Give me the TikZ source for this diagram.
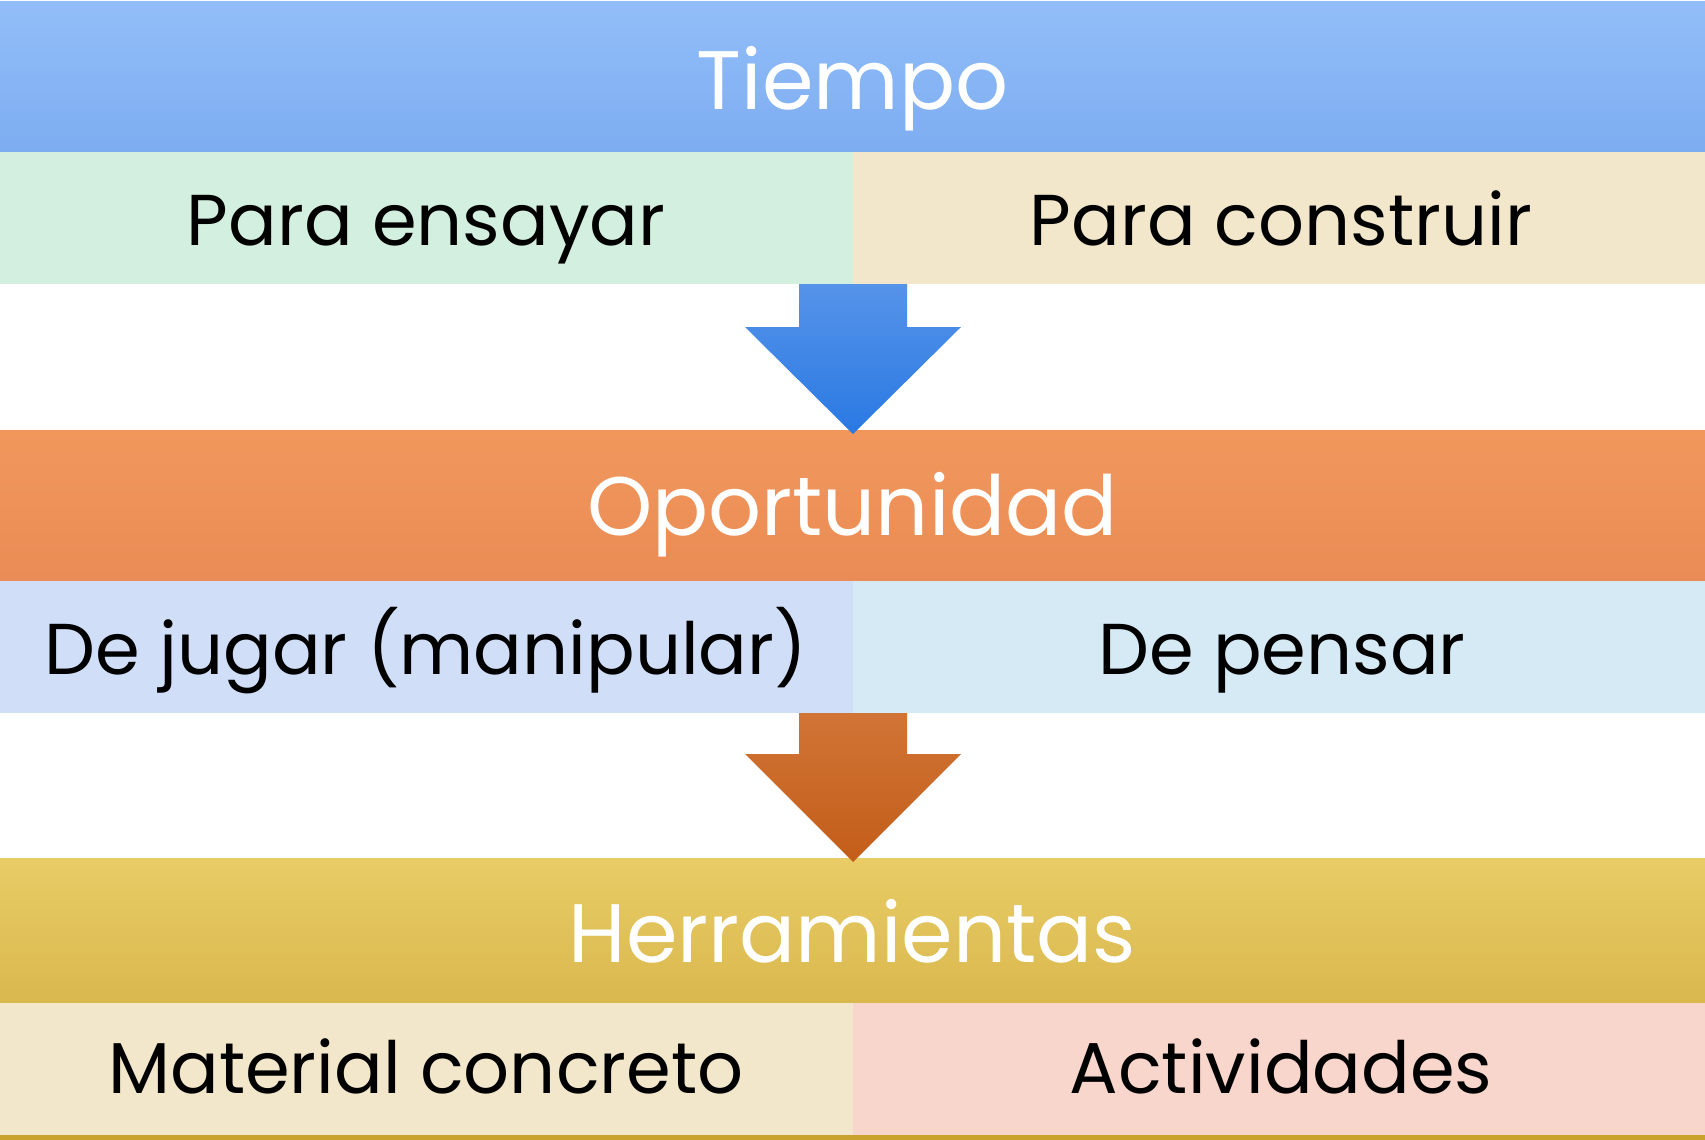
\documentclass[tikz,border=0pt]{standalone}
\usepackage{fontspec}
\setmainfont{Poppins}
\definecolor{tA}{HTML}{92BDF8}
\definecolor{tB}{HTML}{7DADF1}
\definecolor{mint}{HTML}{D3EFDF}
\definecolor{cream}{HTML}{F3E7CB}
\definecolor{aA}{HTML}{5693E9}
\definecolor{aB}{HTML}{2979E3}
\definecolor{oA}{HTML}{F1975C}
\definecolor{oB}{HTML}{EA8C55}
\definecolor{lav}{HTML}{D0DEF8}
\definecolor{sky}{HTML}{D6EAF5}
\definecolor{bA}{HTML}{D17436}
\definecolor{bB}{HTML}{C35D19}
\definecolor{yA}{HTML}{E9CC66}
\definecolor{yB}{HTML}{D9B84E}
\definecolor{pink}{HTML}{F8D6CC}
\definecolor{gold}{HTML}{C8A22C}
\begin{document}
\begin{tikzpicture}[x=1pt,y=-1pt]
\tikzset{
  bar/.style={draw=none,inner sep=0pt,outer sep=0pt,anchor=north west,minimum width=1705pt},
  cell/.style={draw=none,inner sep=0pt,outer sep=0pt,anchor=north west,minimum width=852.5pt,minimum height=132pt},
  ttl/.style={anchor=base,inner sep=0pt,text=white,font=\fontsize{83}{95}\selectfont},
  sub/.style={anchor=base,inner sep=0pt,text=black,font=\fontsize{72}{85}\selectfont},
}
\useasboundingbox (0,0) rectangle (1705,1140);
\fill[white] (0,0) rectangle (1705,1140);
% row 1
\node[bar,minimum height=150pt,top color=tA,bottom color=tB] (b1) at (0,2) {};
\node[cell,fill=mint] (c1l) at (0,152) {};
\node[cell,fill=cream] (c1r) at (852.5,152) {};
% row 2
\node[bar,minimum height=151pt,top color=oA,bottom color=oB] (b2) at (0,430) {};
\node[cell,fill=lav] (c2l) at (0,581) {};
\node[cell,fill=sky] (c2r) at (852.5,581) {};
% row 3
\node[bar,minimum height=145pt,top color=yA,bottom color=yB] (b3) at (0,858) {};
\node[cell,fill=cream] (c3l) at (0,1003) {};
\node[cell,fill=pink] (c3r) at (852.5,1003) {};
\fill[gold] (0,1135) rectangle (1705,1140);
% arrows
\shade[top color=aA,bottom color=aB] (799,284) -- (907,284) -- (907,327) -- (961,327) -- (853,434) -- (745,327) -- (799,327) -- cycle;
\shade[top color=bA,bottom color=bB] (799,713) -- (907,713) -- (907,754) -- (961,754) -- (853,862) -- (745,754) -- (799,754) -- cycle;
% texts
\node[ttl] (t1) at (852.5,109) {Tiempo};
\node[sub] (s1l) at (426,245) {Para ensayar};
\node[sub] (s1r) at (1281,245) {Para construir};
\node[ttl] (t2) at (852.5,535) {Oportunidad};
\node[sub] (s2l) at (426,674) {De jugar (manipular)};
\node[sub] (s2r) at (1282,674) {De pensar};
\node[ttl] (t3) at (852.5,962) {Herramientas};
\node[sub] (s3l) at (426,1093) {Material concreto};
\node[sub] (s3r) at (1281,1093) {Actividades};
\end{tikzpicture}
\end{document}
